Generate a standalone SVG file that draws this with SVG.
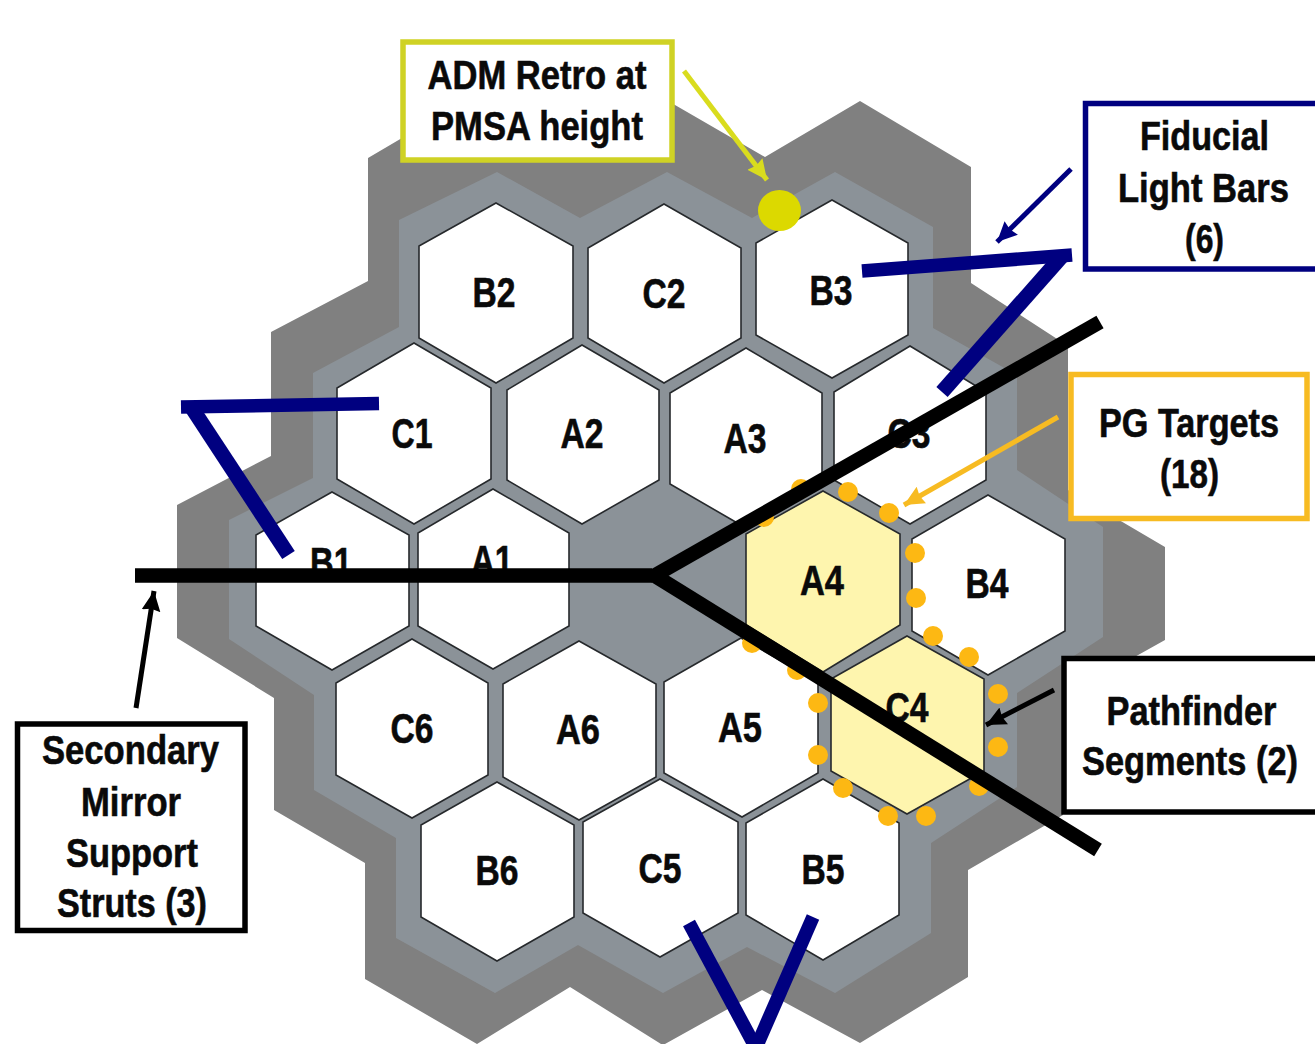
<svg xmlns="http://www.w3.org/2000/svg" width="1315" height="1044" viewBox="0 0 1315 1044">
<style>
text{font-family:"Liberation Sans",Arial,sans-serif;font-weight:700;fill:#0a0a0a;stroke:#0a0a0a;stroke-width:.6;text-anchor:middle;font-size:40px}
.hl{font-size:42px}
.hx{fill:#fff;stroke:#26292c;stroke-width:1.6;stroke-linejoin:miter}
.pf{fill:#fef5ae}
.bg{fill:#fff}
.box{fill:none;stroke-width:5.5}
.bar{fill:none;stroke:#000080;stroke-width:13.5;stroke-linecap:butt}
.leg{stroke-width:15}
.strut{fill:none;stroke:#000;stroke-width:14.5;stroke-linecap:butt}
.ar{fill:none;stroke-width:5;stroke-linecap:butt}
.pg{fill:#fdb813}
</style>
<defs>
<marker id="mY" markerUnits="userSpaceOnUse" markerWidth="22" markerHeight="20" refX="20" refY="9.500" orient="auto"><path d="M0 0L20 9.500L0 19L2 9.500Z" fill="#d9dc1e"/></marker>
<marker id="mN" markerUnits="userSpaceOnUse" markerWidth="22" markerHeight="20" refX="20" refY="9.500" orient="auto"><path d="M0 0L20 9.500L0 19L2 9.500Z" fill="#000080"/></marker>
<marker id="mO" markerUnits="userSpaceOnUse" markerWidth="22" markerHeight="20" refX="20" refY="9.500" orient="auto"><path d="M0 0L20 9.500L0 19L2 9.500Z" fill="#f7bb22"/></marker>
<marker id="mK" markerUnits="userSpaceOnUse" markerWidth="22" markerHeight="20" refX="20" refY="9.500" orient="auto"><path d="M0 0L20 9.500L0 19L2 9.500Z" fill="#000"/></marker>
</defs>
<rect width="1315" height="1044" fill="#fff"/>
<g id="backplane">
<polygon fill="#808080" points="368,158 470,98 570,155 665,100 675,105 765,157 860,101 971,167 971,283 1068,346 1068,490 1165,547 1165,640 1063,697 1063,815 968,870 968,977 860,1043 762,990 665,1044 661,1044 570,987 477,1044 365,979 365,863 274,810 274,698 177,638 177,505 271,456 271,332 368,281"/>
<polygon fill="#8b9298" points="497,172 580,218 667,172 752,218 835,172 933,227 933,328 1017,375 1017,470 1103,527 1103,637 1017,693 1017,787 931,843 931,933 835,993 747,947 663,993 578,945 495,993 396,938 396,838 314,790 314,695 229,639 229,520 313,478 313,373 399,327 399,220"/>
</g>
<g id="B2"><polygon class="hx" points="496,203 573,246 573,338 496,383 419,338 419,246"/><text class="hl" x="494" y="307" textLength="43" lengthAdjust="spacingAndGlyphs">B2</text></g>
<g id="C2"><polygon class="hx" points="664,204 741,248 741,338 664,383 588,338 588,248"/><text class="hl" x="664" y="308" textLength="43" lengthAdjust="spacingAndGlyphs">C2</text></g>
<g id="B3"><polygon class="hx" points="832,200 908,243 908,335 832,378 756,335 756,243"/><text class="hl" x="831" y="305" textLength="43" lengthAdjust="spacingAndGlyphs">B3</text></g>
<g id="C1"><polygon class="hx" points="414,343 491,388 491,479 414,524 337,479 337,388"/><text class="hl" x="412" y="448" textLength="41" lengthAdjust="spacingAndGlyphs">C1</text></g>
<g id="A2"><polygon class="hx" points="582,345 659,390 659,480 582,524 507,480 507,390"/><text class="hl" x="582" y="448" textLength="43" lengthAdjust="spacingAndGlyphs">A2</text></g>
<g id="A3"><polygon class="hx" points="746,348 822,393 822,484 746,528 670,484 670,393"/><text class="hl" x="745" y="453" textLength="43" lengthAdjust="spacingAndGlyphs">A3</text></g>
<g id="C3"><polygon class="hx" points="910,346 986,392 986,480 910,524 834,480 834,392"/><text class="hl" x="909" y="448" textLength="43" lengthAdjust="spacingAndGlyphs">C3</text></g>
<g id="B1"><polygon class="hx" points="332,492 409,535 409,626 332,670 256,626 256,535"/><text class="hl" x="331" y="577" textLength="42" lengthAdjust="spacingAndGlyphs">B1</text></g>
<g id="A1"><polygon class="hx" points="493,489 569,533 569,626 493,669 418,626 418,533"/><text class="hl" x="492" y="575" textLength="42" lengthAdjust="spacingAndGlyphs">A1</text></g>
<g id="A4"><polygon class="hx pf" points="823,491 900,534 900,625 823,672 746,625 746,534"/><text class="hl" x="822" y="595" textLength="44" lengthAdjust="spacingAndGlyphs">A4</text></g>
<g id="B4"><polygon class="hx" points="988,495 1065,539 1065,631 988,675 912,631 912,539"/><text class="hl" x="987" y="598" textLength="43" lengthAdjust="spacingAndGlyphs">B4</text></g>
<g id="C4"><polygon class="hx pf" points="907,636 984,679 984,771 907,814 831,771 831,679"/><text class="hl" x="907" y="722" textLength="43" lengthAdjust="spacingAndGlyphs">C4</text></g>
<g id="A5"><polygon class="hx" points="741,638 818,682 818,773 742,817 664,773 664,682"/><text class="hl" x="740" y="742" textLength="44" lengthAdjust="spacingAndGlyphs">A5</text></g>
<g id="C6"><polygon class="hx" points="412,639 488,683 488,775 412,818 336,775 336,683"/><text class="hl" x="412" y="743" textLength="43" lengthAdjust="spacingAndGlyphs">C6</text></g>
<g id="A6"><polygon class="hx" points="579,641 656,684 656,777 579,820 503,777 503,684"/><text class="hl" x="578" y="744" textLength="44" lengthAdjust="spacingAndGlyphs">A6</text></g>
<g id="B6"><polygon class="hx" points="497,782 574,825 574,917 497,961 421,917 421,825"/><text class="hl" x="497" y="885" textLength="43" lengthAdjust="spacingAndGlyphs">B6</text></g>
<g id="C5"><polygon class="hx" points="660,779 738,822 738,913 660,957 583,913 583,822"/><text class="hl" x="660" y="883" textLength="43" lengthAdjust="spacingAndGlyphs">C5</text></g>
<g id="B5"><polygon class="hx" points="823,779 899,823 899,915 823,960 746,915 746,823"/><text class="hl" x="823" y="884" textLength="43" lengthAdjust="spacingAndGlyphs">B5</text></g>
<g id="pg-targets" class="pg">
<circle cx="848" cy="492" r="10"/><circle cx="889" cy="513" r="10"/><circle cx="915" cy="553" r="10"/><circle cx="916" cy="598" r="10"/><circle cx="933" cy="636" r="10"/><circle cx="969" cy="657" r="10"/><circle cx="998" cy="694" r="10"/><circle cx="998" cy="747" r="10"/><circle cx="979" cy="786" r="10"/><circle cx="926" cy="816" r="10"/><circle cx="888" cy="816" r="10"/><circle cx="843" cy="788" r="10"/><circle cx="818" cy="755" r="10"/><circle cx="818" cy="703" r="10"/><circle cx="797" cy="670" r="10"/><circle cx="752" cy="643" r="10"/><circle cx="764" cy="517" r="10"/><circle cx="801" cy="489" r="10"/>
</g>
<ellipse id="adm-retro" cx="779.5" cy="210.500" rx="21.500" ry="20.500" fill="#dcd900"/>
<g id="light-bars">
<path class="bar" d="M862 271L1072 255"/>
<path class="bar leg" d="M1063 255L942 392"/>
<path class="bar" d="M379 403.500L181 407"/>
<path class="bar leg" d="M190 405L288.500 555"/>
<path class="bar" d="M689 923L757 1050"/>
<path class="bar" d="M813 917L755 1050"/>
</g>
<g id="struts">
<path class="strut" d="M135 575.500L652 575.500"/>
<path class="strut" d="M652 577L1100 322"/>
<path class="strut" d="M652 574L1098 850"/>
</g>
<g id="connectors">
<path class="ar" stroke="#d9dc1e" d="M684 71L767 180" marker-end="url(#mY)"/>
<path class="ar" stroke="#000080" d="M1071 169L997 242" marker-end="url(#mN)"/>
<path class="ar" stroke="#f7bb22" d="M1058 417L904 505" marker-end="url(#mO)"/>
<path class="ar" stroke="#000" d="M1054 690L986 725" marker-end="url(#mK)"/>
<path class="ar" stroke="#000" d="M136 708L154 591" marker-end="url(#mK)"/>
</g>
<g id="label-adm"><rect class="bg" x="403" y="42" width="269" height="118"/><rect class="box" stroke="#cfd225" x="403" y="42" width="269" height="118"/><text x="537" y="89" textLength="219" lengthAdjust="spacingAndGlyphs">ADM Retro at</text><text x="537" y="140" textLength="212" lengthAdjust="spacingAndGlyphs">PMSA height</text></g>
<g id="label-fiducial"><rect class="bg" x="1085.500" y="103.500" width="229.500" height="166"/><path class="box" stroke="#000080" d="M1315 103.500H1085.500V269H1315"/><text x="1204.500" y="150" textLength="129" lengthAdjust="spacingAndGlyphs">Fiducial</text><text x="1203.500" y="202" textLength="171" lengthAdjust="spacingAndGlyphs">Light Bars</text><text x="1204.500" y="253" textLength="39" lengthAdjust="spacingAndGlyphs">(6)</text></g>
<g id="label-pg"><rect class="bg" x="1071" y="374.500" width="236" height="144"/><rect class="box" stroke="#f7bb22" x="1071" y="374.500" width="236" height="144"/><text x="1189" y="437" textLength="180" lengthAdjust="spacingAndGlyphs">PG Targets</text><text x="1189.500" y="488" textLength="59" lengthAdjust="spacingAndGlyphs">(18)</text></g>
<g id="label-pathfinder"><rect class="bg" x="1064" y="658.500" width="251" height="153.500"/><path class="box" stroke="#000" d="M1315 658.500H1064V812H1315"/><text x="1191.500" y="725" textLength="170" lengthAdjust="spacingAndGlyphs">Pathfinder</text><text transform="translate(1190 775) scale(.86 1)">Segments (2)</text></g>
<g id="label-struts"><rect class="bg" x="17.500" y="724" width="227.500" height="206.500"/><rect class="box" stroke="#000" x="17.500" y="724" width="227.500" height="206.500"/><text x="130.500" y="764" textLength="177" lengthAdjust="spacingAndGlyphs">Secondary</text><text x="131" y="816" textLength="100" lengthAdjust="spacingAndGlyphs">Mirror</text><text x="132" y="867" textLength="132" lengthAdjust="spacingAndGlyphs">Support</text><text x="132" y="917" textLength="150" lengthAdjust="spacingAndGlyphs">Struts (3)</text></g>
</svg>
